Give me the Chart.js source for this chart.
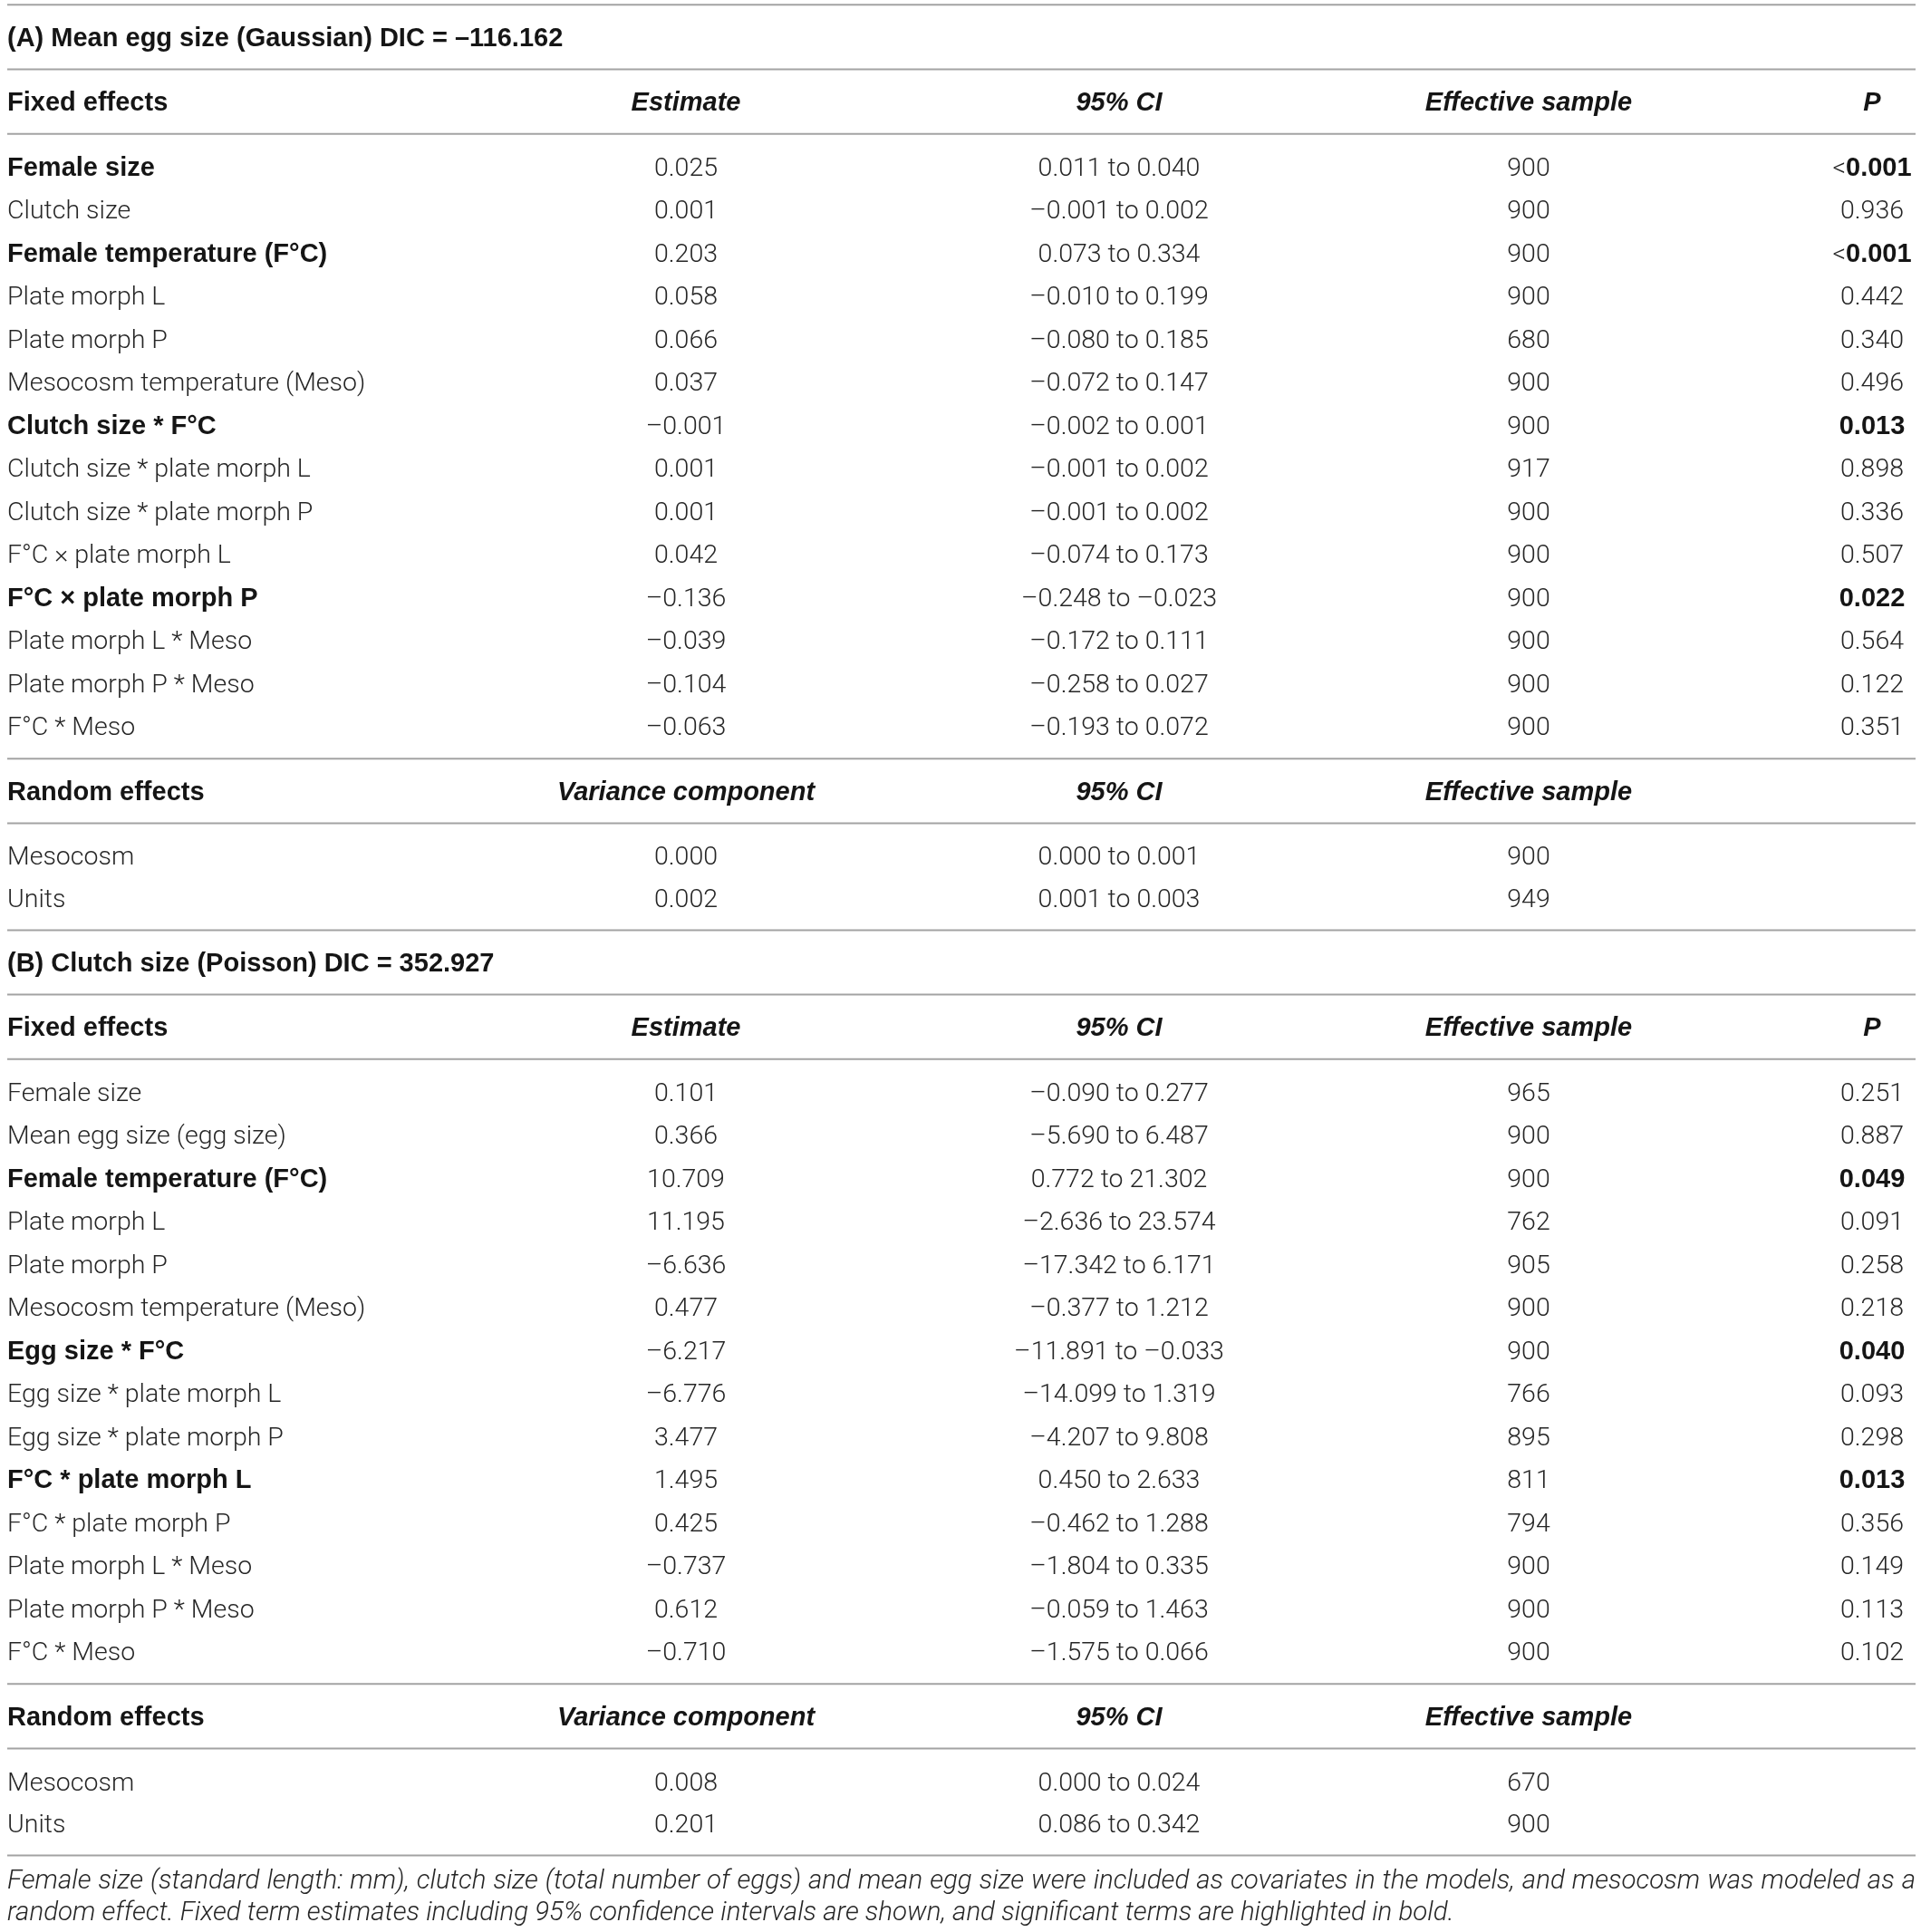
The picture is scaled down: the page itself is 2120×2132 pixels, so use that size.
<!DOCTYPE html>
<html>
<head>
<meta charset="utf-8">
<script src="https://cdn.jsdelivr.net/npm/chart.js@4.4.1/dist/chart.umd.min.js"></script>
<style>
  html, body { margin: 0; padding: 0; background: #fff; }
  canvas { display: block; }
</style>
</head>
<body>
<canvas id="modelTable" width="2120" height="2132"></canvas>
<script>
// ---- (A) Mean egg size model ----
const titleA = "(A) Mean egg size (Gaussian) DIC = –116.162";
const fixedTermsA = [
    "Female size", "Clutch size", "Female temperature (F°C)", "Plate morph L",
    "Plate morph P", "Mesocosm temperature (Meso)", "Clutch size * F°C",
    "Clutch size * plate morph L", "Clutch size * plate morph P",
    "F°C × plate morph L", "F°C × plate morph P", "Plate morph L * Meso",
    "Plate morph P * Meso", "F°C * Meso",
];
const fixedEstA = ["0.025", "0.001", "0.203", "0.058", "0.066", "0.037", "–0.001",
    "0.001", "0.001", "0.042", "–0.136", "–0.039", "–0.104", "–0.063"];
const fixedCiA = ["0.011 to 0.040", "–0.001 to 0.002", "0.073 to 0.334", "–0.010 to 0.199",
    "–0.080 to 0.185", "–0.072 to 0.147", "–0.002 to 0.001", "–0.001 to 0.002",
    "–0.001 to 0.002", "–0.074 to 0.173", "–0.248 to –0.023", "–0.172 to 0.111",
    "–0.258 to 0.027", "–0.193 to 0.072"];
const fixedEssA = ["900", "900", "900", "900", "680", "900", "900", "917", "900", "900",
    "900", "900", "900", "900"];
const fixedPA = ["<0.001", "0.936", "<0.001", "0.442", "0.340", "0.496", "0.013", "0.898",
    "0.336", "0.507", "0.022", "0.564", "0.122", "0.351"];
const randomTermsA = ["Mesocosm", "Units"];
const randomVarA = ["0.000", "0.002"];
const randomCiA = ["0.000 to 0.001", "0.001 to 0.003"];
const randomEssA = ["900", "949"];

// ---- (B) Clutch size model ----
const titleB = "(B) Clutch size (Poisson) DIC = 352.927";
const fixedTermsB = [
    "Female size", "Mean egg size (egg size)", "Female temperature (F°C)", "Plate morph L",
    "Plate morph P", "Mesocosm temperature (Meso)", "Egg size * F°C",
    "Egg size * plate morph L", "Egg size * plate morph P", "F°C * plate morph L",
    "F°C * plate morph P", "Plate morph L * Meso", "Plate morph P * Meso", "F°C * Meso",
];
const fixedEstB = ["0.101", "0.366", "10.709", "11.195", "–6.636", "0.477", "–6.217",
    "–6.776", "3.477", "1.495", "0.425", "–0.737", "0.612", "–0.710"];
const fixedCiB = ["–0.090 to 0.277", "–5.690 to 6.487", "0.772 to 21.302", "–2.636 to 23.574",
    "–17.342 to 6.171", "–0.377 to 1.212", "–11.891 to –0.033", "–14.099 to 1.319",
    "–4.207 to 9.808", "0.450 to 2.633", "–0.462 to 1.288", "–1.804 to 0.335",
    "–0.059 to 1.463", "–1.575 to 0.066"];
const fixedEssB = ["965", "900", "900", "762", "905", "900", "900", "766", "895", "811",
    "794", "900", "900", "900"];
const fixedPB = ["0.251", "0.887", "0.049", "0.091", "0.258", "0.218", "0.040", "0.093",
    "0.298", "0.013", "0.356", "0.149", "0.113", "0.102"];
const randomTermsB = ["Mesocosm", "Units"];
const randomVarB = ["0.008", "0.201"];
const randomCiB = ["0.000 to 0.024", "0.086 to 0.342"];
const randomEssB = ["670", "900"];

const fixedHeader = ["Fixed effects", "Estimate", "95% CI", "Effective sample", "P"];
const randomHeader = ["Random effects", "Variance component", "95% CI", "Effective sample"];
const footnote = [
    "Female size (standard length: mm), clutch size (total number of eggs) and mean egg size were included as covariates in the models, and mesocosm was modeled as a",
    "random effect. Fixed term estimates including 95% confidence intervals are shown, and significant terms are highlighted in bold.",
];

// ---- layout (scale units = page pixels) ----
const colX = [8, 757, 1235, 1687, 2066];
const ruleFrom = 8, ruleTo = 2114;
const blockH = 71.2;      // title / header band between two rules
const edgeGap = 36;       // rule to first row, last row to rule
const rowStep = 47.5, randomStep = 46.5;

const FONT = {
    plain: "300 28.5px Roboto",
    bold: "bold 29px 'Liberation Sans'",
    head: "italic bold 29px 'Liberation Sans'",
    note: "italic 300 29.5px Roboto",
};
const INK = "#262626", INK_BOLD = "#151515", RULE = "#a3a3a3";

const cells = [];
const rules = [];
let y = 5.3;

function rule() { rules.push(y); }
function cell(col, text, font, color) {
    cells.push({ x: colX[col], y: y, text: text, font: font, color: color,
        align: col === 0 ? "left" : "center" });
}
function pCell(col, p, sig) {
    // "<" stays light even when the value is bold
    if (sig && p.startsWith("<")) {
        cells.push({ x: colX[col], y: y, align: "center",
            runs: [{ t: "<", font: FONT.plain, color: INK }, { t: p.slice(1), font: FONT.bold, color: INK_BOLD }] });
    } else {
        cell(col, p, sig ? FONT.bold : FONT.plain, sig ? INK_BOLD : INK);
    }
}
function isSig(p) { return parseFloat(p.replace("<", "")) < 0.05; }
function band(fn) {
    y += blockH / 2; fn();
    y += blockH / 2; rule();
}

function section(title, terms, est, ci, ess, pv, rTerms, rVar, rCi, rEss) {
    band(() => cell(0, title, FONT.bold, INK_BOLD));
    band(() => fixedHeader.forEach((h, i) => cell(i, h, i === 0 ? FONT.bold : FONT.head, INK_BOLD)));
    y += edgeGap;
    terms.forEach((t, i) => {
        if (i > 0) y += rowStep;
        const sig = isSig(pv[i]);
        cell(0, t, sig ? FONT.bold : FONT.plain, sig ? INK_BOLD : INK);
        cell(1, est[i], FONT.plain, INK);
        cell(2, ci[i], FONT.plain, INK);
        cell(3, ess[i], FONT.plain, INK);
        pCell(4, pv[i], sig);
    });
    y += edgeGap; rule();
    band(() => randomHeader.forEach((h, i) => cell(i, h, i === 0 ? FONT.bold : FONT.head, INK_BOLD)));
    y += edgeGap;
    rTerms.forEach((t, i) => {
        if (i > 0) y += randomStep;
        cell(0, t, FONT.plain, INK);
        cell(1, rVar[i], FONT.plain, INK);
        cell(2, rCi[i], FONT.plain, INK);
        cell(3, rEss[i], FONT.plain, INK);
    });
    y += edgeGap - 0.5; rule();
}

rule();
section(titleA, fixedTermsA, fixedEstA, fixedCiA, fixedEssA, fixedPA,
    randomTermsA, randomVarA, randomCiA, randomEssA);
section(titleB, fixedTermsB, fixedEstB, fixedCiB, fixedEssB, fixedPB,
    randomTermsB, randomVarB, randomCiB, randomEssB);
y += 26;
cells.push({ x: colX[0], y: y, text: footnote[0], font: FONT.note, color: INK, align: "left", justifyTo: ruleTo });
y += 35;
cells.push({ x: colX[0], y: y, text: footnote[1], font: FONT.note, color: INK, align: "left" });

// ---- draw text of every cell centred (by cap height) on its point ----
const cellTextPlugin = {
    id: "cellText",
    afterDatasetsDraw(chart) {
        const ctx = chart.ctx;
        const idx = chart.data.datasets.length - 1;
        const meta = chart.getDatasetMeta(idx);
        const data = chart.data.datasets[idx].data;
        const capHalf = (font) => {
            ctx.font = font;
            return ctx.measureText("H").actualBoundingBoxAscent / 2;
        };
        ctx.save();
        ctx.textBaseline = "alphabetic";
        ctx.textAlign = "left";
        meta.data.forEach((el, i) => {
            const d = data[i];
            const runs = d.runs || [{ t: d.text, font: d.font, color: d.color }];
            const base = el.y + capHalf(runs[runs.length - 1].font);
            if (d.justifyTo) {
                ctx.font = d.font;
                ctx.fillStyle = d.color;
                const words = d.text.split(" ");
                const right = chart.scales.x.getPixelForValue(d.justifyTo);
                const wordsW = words.reduce((s, w) => s + ctx.measureText(w).width, 0);
                const gap = (right - el.x - wordsW) / (words.length - 1);
                let cx = el.x;
                words.forEach((w) => {
                    ctx.fillText(w, cx, base);
                    cx += ctx.measureText(w).width + gap;
                });
                return;
            }
            let total = 0;
            runs.forEach((r) => { ctx.font = r.font; total += ctx.measureText(r.t).width; });
            let cx = d.align === "center" ? el.x - total / 2 : el.x;
            runs.forEach((r) => {
                ctx.font = r.font;
                ctx.fillStyle = r.color;
                ctx.fillText(r.t, cx, base);
                cx += ctx.measureText(r.t).width;
            });
        });
        ctx.restore();
    },
};

const ruleDatasets = rules.map((ry) => ({
    type: "line",
    data: [{ x: ruleFrom, y: ry }, { x: ruleTo, y: ry }],
    borderColor: RULE,
    borderWidth: 2,
    pointRadius: 0,
    fill: false,
}));

const ctx = document.getElementById("modelTable").getContext("2d");

Promise.all(Object.values(FONT).map((f) => document.fonts.load(f))).finally(() => {
    new Chart(ctx, {
        type: "scatter",
        data: {
            datasets: [
                ...ruleDatasets,
                { data: cells, pointRadius: 0, pointHoverRadius: 0 },
            ],
        },
        options: {
            responsive: false,
            devicePixelRatio: 1,
            animation: false,
            events: [],
            layout: { padding: 0 },
            plugins: { legend: { display: false }, tooltip: { enabled: false } },
            scales: {
                x: { type: "linear", min: 0, max: 2120, display: false },
                y: { type: "linear", min: 0, max: 2132, reverse: true, display: false },
            },
        },
        plugins: [cellTextPlugin],
    });
});
</script>
</body>
</html>
